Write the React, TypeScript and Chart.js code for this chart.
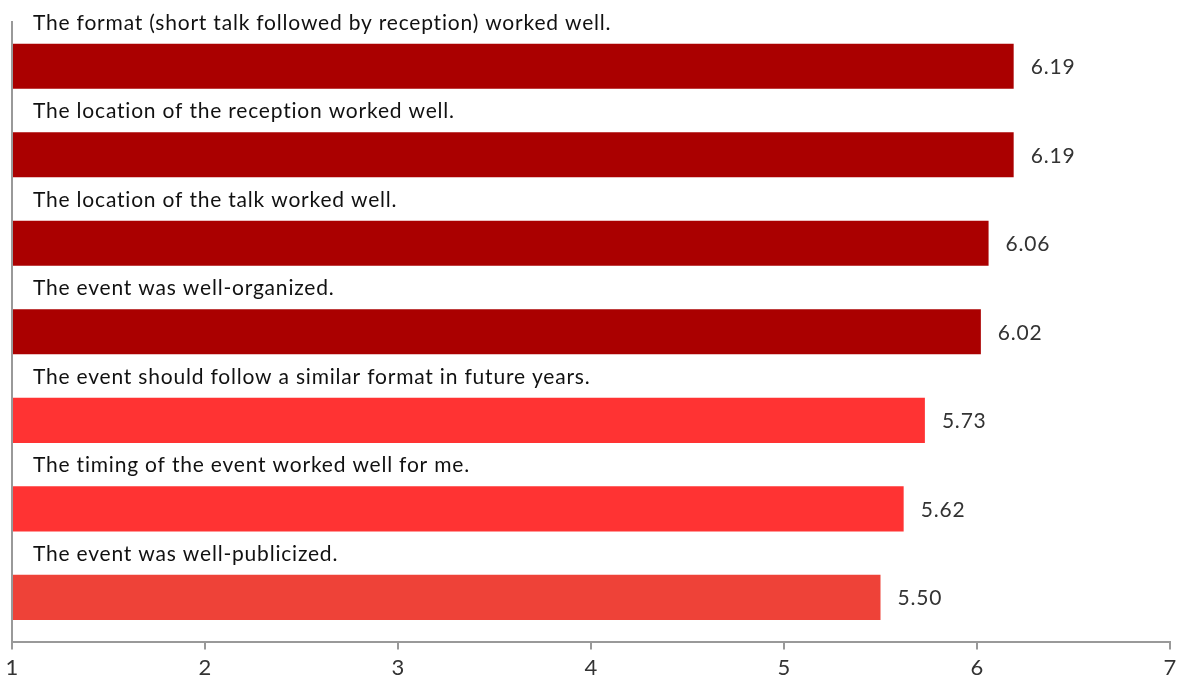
import React, { useEffect, useRef } from "react";
import { Chart, registerables } from "chart.js";

Chart.register(...registerables);

const categories = [
  "The format (short talk followed by reception) worked well.",
  "The location of the reception worked well.",
  "The location of the talk worked well.",
  "The event was well-organized.",
  "The event should follow a similar format in future years.",
  "The timing of the event worked well for me.",
  "The event was well-publicized.",
];
const values = [6.19, 6.19, 6.06, 6.02, 5.73, 5.62, 5.5];
const barColors = ["#aa0000", "#aa0000", "#aa0000", "#aa0000", "#ff3333", "#ff3333", "#ee4238"];
const xTicks = [1, 2, 3, 4, 5, 6, 7];

const FONT = "Lato, 'Open Sans', sans-serif";

const labelPlugin = {
  id: "labelPlugin",
  afterDatasetsDraw(chart: any) {
    const { ctx, scales } = chart;
    const y = scales.y;
    const x = scales.x;
    const meta = chart.getDatasetMeta(0);
    ctx.save();
    const half = (y.getPixelForValue(1) - y.getPixelForValue(0)) / 2;
    categories.forEach((c, i) => {
      const cy = y.getPixelForValue(i);
      ctx.font = `21px ${FONT}`;
      (ctx as any).letterSpacing = "0.8px";
      ctx.fillStyle = "#111";
      ctx.textAlign = "left";
      ctx.textBaseline = "middle";
      ctx.fillText(c, x.left + 21, cy - half + 1);
      const bar = meta.data[i];
      ctx.fillStyle = "#333";
      ctx.font = `21px ${FONT}`;
      (ctx as any).letterSpacing = "0.8px";
      ctx.fillText(values[i].toFixed(2), bar.x + 17, cy + 1);
    });
    (ctx as any).letterSpacing = "0px";
    ctx.restore();
  },
};

export default function App() {
  const ref = useRef<HTMLCanvasElement | null>(null);
  useEffect(() => {
    document.body.style.margin = "0";
    const chart = new Chart(ref.current as HTMLCanvasElement, {
      type: "bar",
      data: {
        labels: categories,
        datasets: [
          {
            data: values,
            backgroundColor: barColors,
            base: 1,
            barPercentage: 0.51,
            categoryPercentage: 1,
          } as any,
        ],
      },
      options: {
        indexAxis: "y",
        animation: false,
        responsive: false,
        maintainAspectRatio: false,
        layout: { padding: { left: 12, right: 7, top: 22, bottom: 0 } },
        plugins: { legend: { display: false }, tooltip: { enabled: false } },
        scales: {
          x: {
            type: "linear",
            min: 1,
            max: 7,
            afterBuildTicks: (axis: any) => {
              axis.ticks = xTicks.map((v) => ({ value: v }));
            },
            afterFit: (axis: any) => {
              axis.paddingRight = 0;
              axis.paddingLeft = 0;
            },
            grid: {
              drawOnChartArea: false,
              drawTicks: true,
              tickLength: 8,
              color: "#999",
              lineWidth: 2,
            },
            border: { display: true, color: "#999", width: 2 },
            ticks: {
              color: "#333",
              font: { size: 22, family: FONT },
              padding: 5,
              maxRotation: 0,
            },
          },
          y: {
            type: "category",
            grid: { display: false, drawTicks: false },
            border: { display: true, color: "#999", width: 2 },
            ticks: { display: false },
          },
        },
      },
      plugins: [labelPlugin],
    });
    return () => chart.destroy();
  }, []);
  return <canvas ref={ref} width={1177} height={686} style={{ display: "block" }} />;
}
